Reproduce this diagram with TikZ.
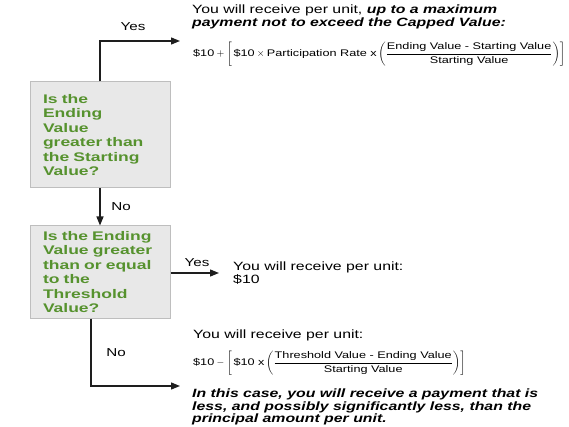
\documentclass[tikz,border=0pt]{standalone}
\usepackage{fontspec}
\setmainfont{Liberation Sans}[FakeStretch=1.32]
\newfontfamily\greenfont{Liberation Sans}[FakeStretch=1.4]
\usetikzlibrary{arrows.meta}
\definecolor{qgreen}{RGB}{86,146,46}
\definecolor{boxfill}{RGB}{232,232,232}
\definecolor{boxline}{RGB}{190,190,190}
\definecolor{arrowcol}{RGB}{30,30,30}
\newcommand{\tx}[1]{\mbox{#1}}
\newcommand{\fstrut}{\rule[-2.5pt]{0pt}{10pt}}
\tikzset{
  qbox/.style={draw=boxline, fill=boxfill, line width=1pt, text width=114pt, inner xsep=13pt,
    minimum width=140pt, align=left, text=qgreen, font=\greenfont\fontsize{12.5}{14.5}\selectfont\bfseries},
  conn/.style={draw=arrowcol, line width=1.3pt, -{Triangle[length=9pt,width=7pt]}},
  lbl/.style={font=\fontsize{11.5}{13}\selectfont, inner sep=0pt},
  body/.style={font=\fontsize{12}{13}\selectfont, align=left, inner sep=0pt},
  formula/.style={font=\fontsize{9.6}{11}\selectfont, inner sep=0pt},
}
\begin{document}
\begin{tikzpicture}[x=1pt,y=-1pt]
\useasboundingbox (0,0) rectangle (569,427);
% decision boxes
\node[qbox, minimum height=106pt] (box1) at (100,135)
  {Is the\\Ending\\Value\\greater than\\the Starting\\Value?};
\node[qbox, minimum height=92pt] (box2) at (100,272)
  {Is the Ending\\Value greater\\than or equal\\to the\\Threshold\\Value?};
% end coordinates
\coordinate (yes1end) at (180,41);
\coordinate (yes2end) at (219,273);
\coordinate (no2end) at (180,386);
% connectors
\draw[conn] (box1.north) |- (yes1end);
\draw[conn] (box1.south) -- (box2.north);
\draw[conn] (box2.east |- yes2end) -- (yes2end);
\draw[conn] ([xshift=-9pt]box2.south) |- (no2end);
% labels
\node[lbl] (lyes1) at (133,27) {Yes};
\node[lbl] (lno1) at (121,207) {No};
\node[lbl] (lyes2) at (197,263) {Yes};
\node[lbl] (lno2) at (116,353) {No};
% outcome texts
\node[body, anchor=north west] (t1) at (192,5)
  {You will receive per unit, \textbf{\textit{up to a maximum}}\\
   \textbf{\textit{payment not to exceed the Capped Value:}}};
\node[formula, anchor=west] (f1) at (193,54)
  {$\displaystyle \tx{\$10} + \left[\,\tx{\$10}\times\tx{Participation Rate x}\left(\frac{\fstrut\tx{Ending Value - Starting Value}}{\fstrut\tx{Starting Value}}\right)\right]$};
\node[body, anchor=north west] (t2) at (233,262)
  {You will receive per unit:\\\$10};
\node[body, anchor=west] (t3) at (193,335) {You will receive per unit:};
\node[formula, anchor=west] (f2) at (193,363)
  {$\displaystyle \tx{\$10} - \left[\,\tx{\$10 x}\left(\frac{\fstrut\tx{Threshold Value - Ending Value}}{\fstrut\tx{Starting Value}}\right)\right]$};
\node[body, anchor=north west, font=\fontsize{12}{12.5}\selectfont\bfseries\itshape] (t4) at (192,389)
  {In this case, you will receive a payment that is\\
   less, and possibly significantly less, than the\\
   principal amount per unit.};
\end{tikzpicture}
\end{document}
